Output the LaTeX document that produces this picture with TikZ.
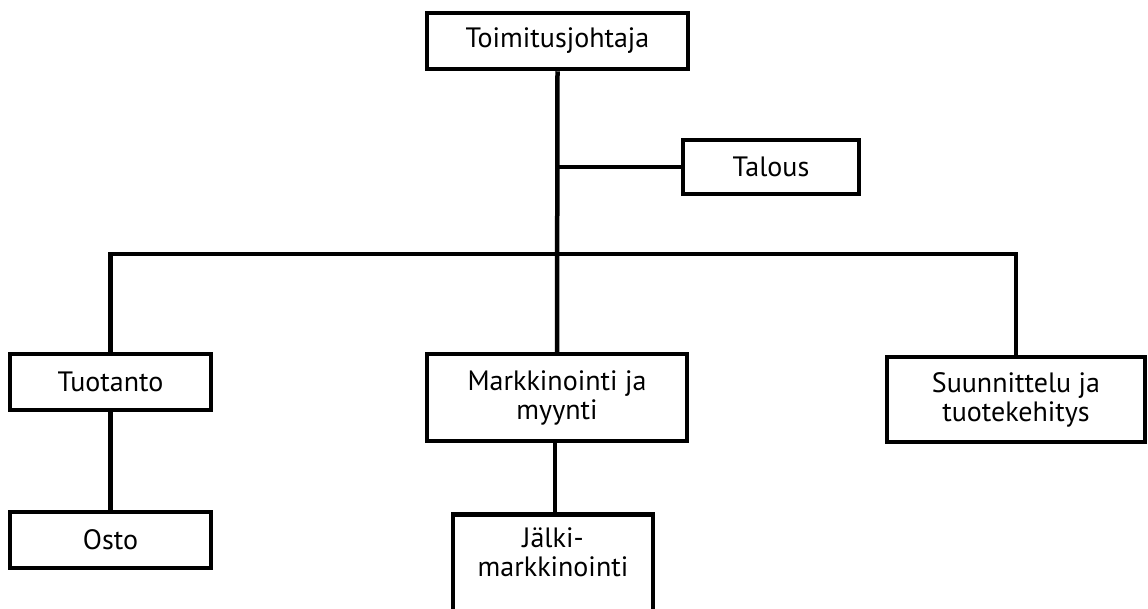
\documentclass[tikz,border=0pt]{standalone}
\usepackage{fontspec}
\setmainfont{PT Sans}
\usepackage{tikz}
\usetikzlibrary{%
positioning,%
calc}

\tikzset{
  orgbox/.style={draw=black,line width=4.5pt,fill=white,align=center,
    inner sep=0pt,font=\fontsize{28}{29}\selectfont},
  orgline/.style={line width=4.5pt,black}
}

\begin{document}
\begin{tikzpicture}[x=1pt,y=-1pt]
\useasboundingbox[fill=white] (0,0) rectangle (1148,608);
\clip (0,0) rectangle (1148,608);
% boxes
\node[orgbox,minimum width=261pt,minimum height=56pt] (toim) at (557.5,41) {Toimitusjohtaja};
\node[orgbox,minimum width=176pt,minimum height=54pt] (talous) at (771,167) {Talous};
\node[orgbox,minimum width=201pt,minimum height=56pt] (tuot) at (110.5,382) {Tuotanto};
\node[orgbox,minimum width=260pt,minimum height=87pt] (mark) at (557,397.5) {Markkinointi ja\\myynti};
\node[orgbox,minimum width=258pt,minimum height=85pt] (suun) at (1016,399.5) {Suunnittelu ja\\tuotekehitys};
\node[orgbox,minimum width=201pt,minimum height=56pt] (osto) at (110.5,540) {Osto};
\node[orgbox,minimum width=200pt,minimum height=140pt,anchor=north] (jalki) at (553,512) {};
\node[align=center,inner sep=0pt,font=\fontsize{28}{29}\selectfont,below=15pt of jalki.north] (jalkitxt) {Jälki-\\markkinointi};
% lines
\coordinate (bar) at (557,254);
\begin{scope}[orgline]
  \draw (toim.south) -- (mark.north);
  \draw (toim.south |- talous.west) -- (talous.west);
  \draw (tuot.north) |- (bar) -| (suun.north);
  \draw (tuot.south) -- (osto.north);
  \draw (mark.south -| jalki.north) ++(2,0) -- ($(jalki.north)+(2,0)$);
\end{scope}
\end{tikzpicture}
\end{document}
